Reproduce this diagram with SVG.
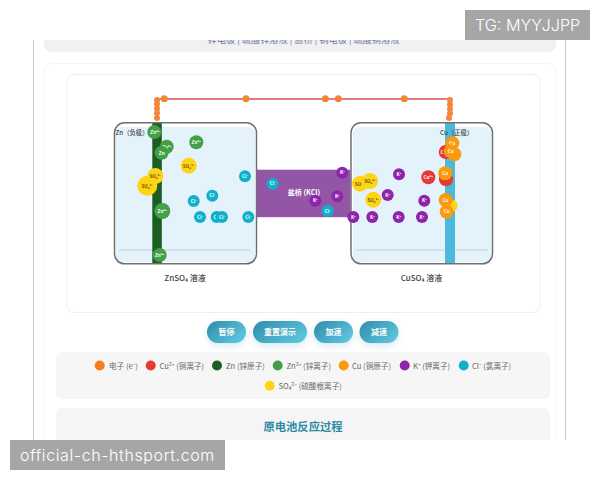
<svg xmlns="http://www.w3.org/2000/svg" width="600" height="480" viewBox="0 0 600 480">
<defs>
<linearGradient id="btn" x1="0" y1="0" x2="1" y2="0.6"><stop offset="0" stop-color="#2f8cab"/><stop offset="1" stop-color="#5cc2da"/></linearGradient>
<filter id="soft" x="-30%" y="-30%" width="160%" height="180%"><feDropShadow dx="0" dy="3" stdDeviation="3" flood-color="#2f8cab" flood-opacity="0.18"/></filter>
</defs>
<style>
text{font-family:"Noto Sans CJK SC","Noto Sans",sans-serif}
.beaker{fill:none;stroke:#6f6f6f;stroke-width:1.5}
.liquid{fill:#e4f2fc}
.level{stroke:#c3d0da;stroke-width:1}
.cap{font-size:8px;fill:#444;font-weight:500;text-anchor:middle}
.pole{font-size:6.300px;fill:#444;font-weight:500}
.ion{font-size:4.600px;fill:#fff;font-weight:700;text-anchor:middle}
.dark{fill:#6b5600}
.zn{fill:#43a047}.so{fill:#fdd516}.cl{fill:#0fb0cc}.k{fill:#8e24aa}.cu2{fill:#e53935}.cu{fill:#fb9a0c}.e{fill:#f2873a}
.leg{font-size:7.600px;fill:#666}
.btxt{font-size:8px;fill:#fff;font-weight:700;text-anchor:middle}
.wm{font-family:"Inter","Liberation Sans",sans-serif;font-weight:300;fill:#fff}
</style>

<rect width="600" height="480" fill="#fff"/>
<!-- page frame -->
<path d="M33.500 40V440M565.500 40V440" stroke="#c4c4c4" fill="none"/>
<rect x="44" y="20" width="512" height="32" rx="7" fill="#f1f1f1"/>
<text x="303.500" y="43" font-size="9.200" fill="#6a7bab" text-anchor="middle">锌电极 | 硫酸锌溶液 | 盐桥 | 铜电极 | 硫酸铜溶液</text>
<rect x="44" y="63.500" width="512" height="420" rx="8" fill="#fff" stroke="#f5f5f5"/>
<rect x="67" y="74.500" width="473" height="238" rx="6" fill="#fff" stroke="#efefef"/>

<!-- external circuit -->
<g id="connectors">
<path d="M157 120V99H450V120" fill="none" stroke="#dc4f4f" stroke-width="1.600"/>
</g>

<g id="left-cell">
<rect class="liquid" x="116" y="127" width="139" height="135" rx="6"/>
<line class="level" x1="119" y1="250" x2="251" y2="250"/>
<rect x="152.300" y="122" width="9.500" height="142" fill="#1b5e20"/>
<rect class="beaker" x="114.500" y="122.800" width="142" height="141" rx="10"/>
</g>
<g id="right-cell">
<rect class="liquid" x="353" y="127" width="138" height="135" rx="6"/>
<line class="level" x1="356" y1="250" x2="488" y2="250"/>
<rect x="445" y="122" width="10" height="142" fill="#4cb8dc"/>
<rect class="beaker" x="351" y="122.800" width="141.500" height="141" rx="10"/>
</g>
<g id="salt-bridge">
<rect x="257" y="169.700" width="93.500" height="47.500" fill="#9356a6"/>
<text x="304" y="195" font-size="7" fill="#fff" font-weight="700" text-anchor="middle">盐桥 (KCl)</text>
</g>

<g id="labels">
<text class="pole" x="115.500" y="134.500">Zn（负极）</text>
<text class="pole" x="440" y="134.500">Cu（正极）</text>
<text class="cap" x="185" y="281">ZnSO₄ 溶液</text>
<text class="cap" x="421.500" y="281">CuSO₄ 溶液</text>
</g>

<g id="electrons">
<circle class="e" cx="157" cy="100" r="3"/><circle class="e" cx="157" cy="104" r="3"/><circle class="e" cx="157" cy="108.500" r="3"/><circle class="e" cx="157" cy="113" r="3"/><circle class="e" cx="157" cy="118" r="3"/>
<circle class="e" cx="164.300" cy="98.800" r="3.500"/><circle class="e" cx="246" cy="98.800" r="3.500"/><circle class="e" cx="325.300" cy="98.800" r="3.500"/><circle class="e" cx="338.300" cy="98.800" r="3.500"/><circle class="e" cx="404.300" cy="98.800" r="3.500"/>
<circle class="e" cx="450" cy="100" r="3"/><circle class="e" cx="450" cy="104.500" r="3"/><circle class="e" cx="450" cy="109" r="3"/><circle class="e" cx="450" cy="113.500" r="3"/><circle class="e" cx="449" cy="118" r="3"/>
</g>

<g id="ions-left">
<circle class="so" cx="147.300" cy="185.700" r="10"/><text class="ion dark" x="147.300" y="188">SO₄²⁻</text>
<circle class="so" cx="155.300" cy="176" r="8"/><text class="ion dark" x="155.300" y="178">SO₄²⁻</text>
<circle class="so" cx="188.700" cy="165.700" r="8"/><text class="ion dark" x="188.700" y="167.500">SO₄²⁻</text>
<circle class="zn" cx="154.300" cy="132" r="7"/><text class="ion" x="155" y="133.800">Zn²⁺</text>
<circle class="zn" cx="166.700" cy="146.700" r="7"/><text class="ion" x="166.700" y="148.500">Zn²⁺</text>
<circle class="zn" cx="161.700" cy="152.700" r="7"/><text class="ion" x="161.700" y="154.500">Zn</text>
<circle class="zn" cx="196.300" cy="142.300" r="7"/><text class="ion" x="196.300" y="144">Zn²⁺</text>
<circle class="zn" cx="162.300" cy="211" r="8"/><text class="ion" x="162.300" y="212.800">Zn²⁺</text>
<circle class="zn" cx="159.700" cy="255" r="7"/><text class="ion" x="159.700" y="256.800">Zn²⁺</text>
<circle class="cl" cx="245" cy="176.300" r="6"/><text class="ion" x="245" y="178">Cl⁻</text>
<circle class="cl" cx="272.700" cy="183.700" r="6"/><text class="ion" x="272.700" y="185.400">Cl⁻</text>
<circle class="cl" cx="212.300" cy="195.700" r="6"/><text class="ion" x="212.300" y="197.400">Cl⁻</text>
<circle class="cl" cx="193.700" cy="201" r="6"/><text class="ion" x="193.700" y="202.700">Cl⁻</text>
<circle class="cl" cx="200" cy="217" r="6"/><text class="ion" x="200" y="218.700">Cl⁻</text>
<circle class="cl" cx="216.700" cy="217" r="6"/><text class="ion" x="215" y="218.700">C</text>
<circle class="cl" cx="222" cy="217" r="6"/><text class="ion" x="222" y="218.700">Cl⁻</text>
<circle class="cl" cx="248.300" cy="217" r="6"/><text class="ion" x="248.300" y="218.700">Cl⁻</text>
</g>

<g id="ions-right">
<circle class="k" cx="342.300" cy="172.700" r="6"/><text class="ion" x="342.300" y="174.400">K⁺</text>
<circle class="k" cx="337.300" cy="196.300" r="6"/><text class="ion" x="337.300" y="198">K⁺</text>
<circle class="k" cx="315.300" cy="200.700" r="6"/><text class="ion" x="315.300" y="202.400">K⁺</text>
<circle class="cl" cx="327.700" cy="211" r="6"/><text class="ion" x="327.700" y="212.700">Cl⁻</text>
<circle class="k" cx="353.300" cy="217" r="6"/><text class="ion" x="353.300" y="218.700">K⁺</text>
<circle class="k" cx="372.300" cy="217" r="6"/><text class="ion" x="372.300" y="218.700">K⁺</text>
<circle class="k" cx="398.700" cy="217" r="6"/><text class="ion" x="398.700" y="218.700">K⁺</text>
<circle class="k" cx="422" cy="217" r="6"/><text class="ion" x="422" y="218.700">K⁺</text>
<circle class="k" cx="387.700" cy="195" r="6"/><text class="ion" x="387.700" y="196.700">K⁺</text>
<circle class="k" cx="424.300" cy="200.700" r="6"/><text class="ion" x="424.300" y="202.400">K⁺</text>
<circle class="k" cx="399" cy="174.300" r="6"/><text class="ion" x="399" y="176">K⁺</text>
<circle class="so" cx="360" cy="183.700" r="8"/><text class="ion dark" x="358" y="185.500">SO</text>
<circle class="so" cx="370" cy="181" r="8"/><text class="ion dark" x="370" y="182.800">SO₄²⁻</text>
<circle class="so" cx="373.300" cy="199.700" r="8"/><text class="ion dark" x="373.300" y="201.500">SO₄²⁻</text>
<circle class="cu2" cx="428.300" cy="177.300" r="7"/><text class="ion" x="428.300" y="179">Cu²⁺</text>
<circle class="cu2" cx="445.700" cy="152" r="7"/><text class="ion" x="442" y="153.800">C</text>
<circle class="cu2" cx="446" cy="179.300" r="7"/>
<circle class="so" cx="451.700" cy="205.700" r="6"/>
<circle class="cu" cx="452.300" cy="143.300" r="7"/><text class="ion" x="452.300" y="145">Cu</text>
<circle class="cu" cx="454.300" cy="154.300" r="7"/>
<circle class="cu" cx="450.700" cy="151.300" r="7"/><text class="ion" x="450.700" y="153">Cu</text>
<circle class="cu" cx="445.300" cy="173.300" r="7"/><text class="ion" x="445.300" y="175">Cu</text>
<circle class="cu" cx="445.700" cy="200" r="7"/><text class="ion" x="445.700" y="201.700">Cu</text>
<circle class="cu" cx="446.700" cy="211.700" r="7"/><text class="ion" x="446.700" y="213.400">Cu</text>
</g>

<g id="controls">
<g id="btn-pause"><rect x="207" y="321" width="39" height="22" rx="11" fill="url(#btn)" filter="url(#soft)"/><text class="btxt" x="226.500" y="335">暂停</text></g>
<g id="btn-reset"><rect x="253" y="321" width="54" height="22" rx="11" fill="url(#btn)" filter="url(#soft)"/><text class="btxt" x="280" y="335">重置演示</text></g>
<g id="btn-faster"><rect x="314" y="321" width="39" height="22" rx="11" fill="url(#btn)" filter="url(#soft)"/><text class="btxt" x="333.500" y="335">加速</text></g>
<g id="btn-slower"><rect x="359.500" y="321" width="39" height="22" rx="11" fill="url(#btn)" filter="url(#soft)"/><text class="btxt" x="379" y="335">减速</text></g>
</g>

<g id="legend">
<rect x="56" y="352" width="494" height="47" rx="6" fill="#f6f6f6"/>
<circle cx="99.700" cy="365.500" r="5" fill="#f57c20"/><text class="leg" x="109" y="368.500">电子 (e⁻)</text>
<circle cx="150.700" cy="365.500" r="5" fill="#e53935"/><text class="leg" x="159.500" y="368.500">Cu²⁺ (铜离子)</text>
<circle cx="217" cy="365.500" r="5" fill="#1b5e20"/><text class="leg" x="226" y="368.500">Zn (锌原子)</text>
<circle cx="277.700" cy="365.500" r="5" fill="#43a047"/><text class="leg" x="286.500" y="368.500">Zn²⁺ (锌离子)</text>
<circle cx="343.700" cy="365.500" r="5" fill="#fb9a0c"/><text class="leg" x="352" y="368.500">Cu (铜原子)</text>
<circle cx="404.700" cy="365.500" r="5" fill="#8e24aa"/><text class="leg" x="413" y="368.500">K⁺ (钾离子)</text>
<circle cx="463.700" cy="365.500" r="5" fill="#0fb0cc"/><text class="leg" x="472" y="368.500">Cl⁻ (氯离子)</text>
<circle cx="269.700" cy="385.700" r="5" fill="#fdd516"/><text class="leg" x="278.500" y="389">SO₄²⁻ (硫酸根离子)</text>
</g>

<g id="process">
<rect x="56" y="408" width="494" height="50" rx="7" fill="#f5f5f5"/>
<text x="303" y="431" font-size="11.300" font-weight="700" fill="#2c8aa6" text-anchor="middle">原电池反应过程</text>
</g>

<!-- blank bands over and under the page -->
<rect x="0" y="0" width="600" height="40" fill="#fff"/>
<rect x="0" y="440" width="600" height="40" fill="#fff"/>
<g id="tag-top"><rect x="465" y="10" width="125" height="30" fill="#a6a6a6"/><text class="wm" x="475" y="31" font-size="16.200">TG: MYYJJPP</text></g>
<g id="tag-bottom"><rect x="10" y="440" width="215" height="30" fill="#a6a6a6"/><text class="wm" x="20" y="461" font-size="16" letter-spacing="0.600">official-ch-hthsport.com</text></g>
</svg>
